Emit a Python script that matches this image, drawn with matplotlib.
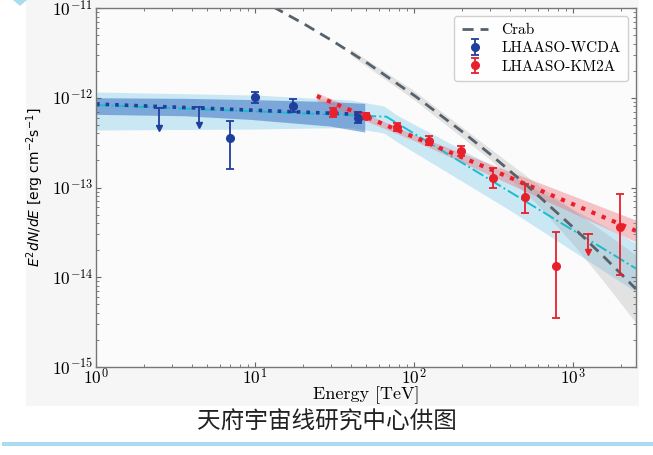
import numpy as np
import matplotlib
matplotlib.use("Agg")
import matplotlib.pyplot as plt
from matplotlib.patches import Rectangle, Polygon
from matplotlib.ticker import FuncFormatter, LogLocator, NullFormatter

plt.rcParams['mathtext.fontset'] = 'cm'

# ---------------- data ----------------
# WCDA flux points
wcda_E = [6.96, 9.96, 17.4, 44.2]
wcda_F = [3.56e-13, 1.02e-12, 8.15e-13, 6.0e-13]
wcda_Fhi = [5.5e-13, 1.16e-12, 9.7e-13, 6.9e-13]
wcda_Flo = [1.6e-13, 8.7e-13, 6.9e-13, 5.2e-13]
# WCDA upper limits
wcda_ul_E = [2.48, 4.43]
wcda_ul_F = [7.62e-13, 7.8e-13]
wcda_ul_tip = [4.63e-13, 5.0e-13]

# KM2A flux points
km2a_E = [31.1, 49.7, 78.2, 124, 198.5, 313, 499, 785, 1975]
km2a_F = [6.87e-13, 6.25e-13, 4.75e-13, 3.32e-13, 2.55e-13, 1.28e-13, 7.8e-14, 1.34e-14, 3.6e-14]
km2a_Fhi = [7.6e-13, 6.7e-13, 5.2e-13, 3.75e-13, 2.9e-13, 1.64e-13, 1.1e-13, 3.2e-14, 8.4e-14]
km2a_Flo = [6.15e-13, 5.8e-13, 4.3e-13, 2.97e-13, 2.25e-13, 1.0e-13, 5.2e-14, 3.56e-15, 1.05e-14]
# KM2A upper limit
km2a_ul_E = [1242]
km2a_ul_F = [3.02e-14]
km2a_ul_tip = [1.92e-14]

# Crab reference curve
crab_E = [13, 20, 30, 50, 100, 200, 300, 500, 1000, 1500, 2490]
crab_F = [1.031e-11, 6.77e-12, 4.42e-12, 2.49e-12, 1.068e-12, 4.23e-13, 2.37e-13,
          1.099e-13, 3.62e-14, 1.82e-14, 7.4e-15]
crab_band_E = [40, 100, 300, 600, 1000, 1500, 2490]
crab_band_hi = [3.48e-12, 1.20e-12, 2.73e-13, 1.08e-13, 5.6e-14, 3.37e-14, 1.78e-14]
crab_band_lo = [2.98e-12, 9.5e-13, 2.06e-13, 6.4e-14, 2.34e-14, 9.8e-15, 3.1e-15]

# WCDA power-law fit and band
wcda_fit_E = [1, 49]
wcda_fit_F = [8.51e-13, 6.50e-13]
wcda_band_E = [1, 3.6, 9.3, 29.5, 49]
wcda_band_hi = [1.0e-12, 9.85e-13, 9.55e-13, 9.07e-13, 8.66e-13]
wcda_band_lo = [6.53e-13, 6.30e-13, 5.74e-13, 4.84e-13, 4.15e-13]

# Joint broken power-law fit and band
joint_fit_E = [1, 67, 2490]
joint_fit_F = [8.3e-13, 6.15e-13, 1.25e-14]
joint_band_E = [1, 10, 40, 65, 78, 400, 2490]
joint_band_hi = [1.159e-12, 1.072e-12, 9.42e-13, 8.07e-13, 6.41e-13, 1.374e-13, 2.40e-14]
joint_band_lo = [4.37e-13, 4.48e-13, 4.66e-13, 4.04e-13, 3.23e-13, 5.60e-14, 6.87e-15]

# KM2A power-law fit and band
km2a_fit_E = [24.5, 2490]
km2a_fit_F = [1.045e-12, 3.29e-14]
km2a_band_E = [24.5, 100, 400, 2490]
km2a_band_hi = [1.137e-12, 3.89e-13, 1.512e-13, 4.33e-14]
km2a_band_lo = [9.26e-13, 3.33e-13, 1.091e-13, 2.48e-14]

# ---------------- colours ----------------
c_wcda = '#1e3f9c'
c_km2a = '#e8202c'
c_crab = '#56616b'
c_cyan = '#17becf'


def loginterp(xs, ys, n=200):
    lx = np.log10(xs)
    ly = np.log10(ys)
    gx = np.linspace(lx[0], lx[-1], n)
    return 10 ** gx, 10 ** np.interp(gx, lx, ly)


fig = plt.figure(figsize=(6.53, 4.55), dpi=100)
fig.patch.set_facecolor('white')

# grey panel behind the plot
fig.add_artist(Rectangle((26 / 653, 1 - 406 / 455), (639 - 26) / 653, 406 / 455,
                         transform=fig.transFigure, facecolor='#f6f6f6',
                         edgecolor='none', zorder=-10))
# light blue rule and corner diamond
fig.add_artist(Rectangle((2 / 653, 1 - 446 / 455), 651 / 653, 4.5 / 455,
                         transform=fig.transFigure, facecolor='#a9dcf1',
                         edgecolor='none', zorder=-9))
fig.add_artist(Polygon([(13 / 653, 1.0), (20 / 653, 1 - 6 / 455), (27 / 653, 1.0),
                        (20 / 653, 1 + 6 / 455)], closed=True,
                       transform=fig.transFigure, facecolor='#a9dcf1',
                       edgecolor='none', zorder=-9))

ax = fig.add_axes([96 / 653, 1 - 367 / 455, (636 - 96) / 653, (367 - 8) / 455])
ax.set_facecolor('#fbfbfb')
ax.set_xscale('log')
ax.set_yscale('log')
ax.set_xlim(1, 2490)
ax.set_ylim(1e-15, 1e-11)

# bands
x, hi = loginterp(joint_band_E, joint_band_hi)
_, lo = loginterp(joint_band_E, joint_band_lo)
ax.fill_between(x, lo, hi, color='#8fd0ec', alpha=0.45, lw=0, zorder=1)

x, hi = loginterp(crab_band_E, crab_band_hi)
_, lo = loginterp(crab_band_E, crab_band_lo)
ax.fill_between(x, lo, hi, color='#9a9a9a', alpha=0.25, lw=0, zorder=1.2)

x, hi = loginterp(wcda_band_E, wcda_band_hi)
_, lo = loginterp(wcda_band_E, wcda_band_lo)
ax.fill_between(x, lo, hi, color='#3d74c4', alpha=0.55, lw=0, zorder=1.4)

x, hi = loginterp(km2a_band_E, km2a_band_hi)
_, lo = loginterp(km2a_band_E, km2a_band_lo)
ax.fill_between(x, lo, hi, color='#ec6f78', alpha=0.4, lw=0, zorder=1.6)

# fit lines
x, y = loginterp(joint_fit_E, joint_fit_F)
ax.plot(x, y, ls='-.', color=c_cyan, lw=1.4, zorder=2)
x, y = loginterp(wcda_fit_E, wcda_fit_F)
ax.plot(x, y, ls=':', color=c_wcda, lw=2.6, zorder=2.2)
x, y = loginterp(km2a_fit_E, km2a_fit_F)
ax.plot(x, y, ls=':', color=c_km2a, lw=3.0, zorder=2.2)

# crab
x, y = loginterp(crab_E, crab_F, 400)
ax.plot(x, y, ls=(0, (4, 2.5)), color=c_crab, lw=2.0, zorder=2.5, label='Crab')

# data points
def pts(E, F, Flo, Fhi, c, label):
    F = np.array(F)
    yerr = [F - np.array(Flo), np.array(Fhi) - F]
    ax.errorbar(E, F, yerr=yerr, fmt='o', color=c, ms=5.5, capsize=3.2,
                elinewidth=1.3, capthick=1.3, zorder=4, label=label)


def uls(E, F, tip, c):
    for e, f, t in zip(E, F, tip):
        ax.plot([e, e], [f, t], color=c, lw=1.3, zorder=4)
        ax.plot([e], [f], marker='_', ms=7, mew=1.3, color=c, zorder=4)
        ax.plot([e], [t], marker='v', ms=4.5, color=c, zorder=4)


pts(wcda_E, wcda_F, wcda_Flo, wcda_Fhi, c_wcda, 'LHAASO-WCDA')
uls(wcda_ul_E, wcda_ul_F, wcda_ul_tip, c_wcda)
pts(km2a_E, km2a_F, km2a_Flo, km2a_Fhi, c_km2a, 'LHAASO-KM2A')
uls(km2a_ul_E, km2a_ul_F, km2a_ul_tip, c_km2a)

# axes styling
fmt = FuncFormatter(lambda v, p: r'$10^{%d}$' % int(round(np.log10(v))))
ax.xaxis.set_major_formatter(fmt)
ax.yaxis.set_major_formatter(fmt)
ax.xaxis.set_minor_formatter(NullFormatter())
ax.yaxis.set_minor_formatter(NullFormatter())
ax.yaxis.set_major_locator(LogLocator(base=10, numticks=10))
ax.yaxis.set_minor_locator(LogLocator(base=10, subs=np.arange(2, 10), numticks=10))
ax.tick_params(which='both', direction='in', top=True, right=True, colors='#666666',
               labelcolor='black', labelsize=12.5)
ax.tick_params(which='major', length=3.5, width=0.8)
ax.tick_params(which='minor', length=2, width=0.6)
ax.tick_params(axis='x', pad=1)
ax.tick_params(axis='y', pad=2)
for s in ax.spines.values():
    s.set_color('#777777')
    s.set_linewidth(1.0)

ax.set_xlabel('Energy [TeV]', family='cmr10', fontsize=13, labelpad=-2)
ax.set_ylabel(r'$E^2dN/dE$ [erg cm$^{-2}$s$^{-1}$]', family='DejaVu Sans',
              math_fontfamily='dejavusans', fontsize=10, labelpad=4)

leg = ax.legend(loc='upper right', prop={'family': 'cmr10', 'size': 11},
                frameon=True, fancybox=True, borderpad=0.5, handlelength=1.7,
                handletextpad=0.9, labelspacing=0.3, bbox_to_anchor=(1.0, 1.0))
leg.get_frame().set_edgecolor('#cccccc')
leg.get_frame().set_facecolor('white')
leg.get_frame().set_alpha(0.9)

fig.text(0.5, 1 - 422 / 455, '天府宇宙线研究中心供图', ha='center', va='center',
         family=['Noto Sans CJK SC', 'DejaVu Sans'], fontsize=17, color='#222222')

fig.savefig('out.png', dpi=100)
